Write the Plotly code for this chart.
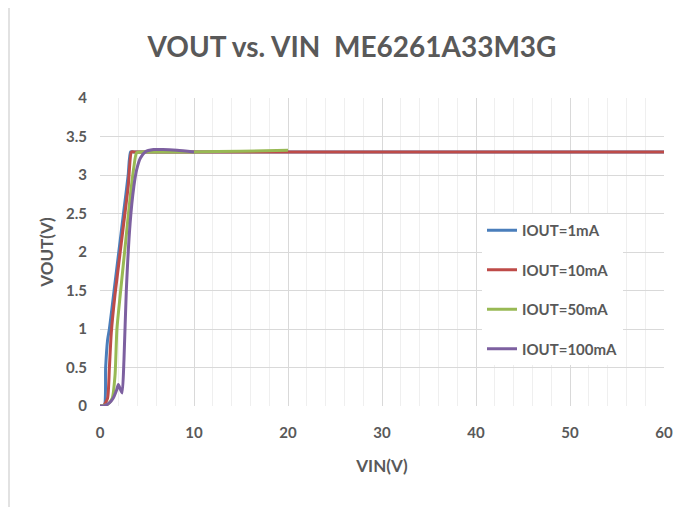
import plotly.graph_objects as go

# IOUT = 1mA
vin_1 = [0, 0.45, 0.6, 0.8, 1.0, 1.5, 2.0, 2.5, 3.0, 3.25, 3.5, 4, 5, 10, 20, 30, 40, 50, 60]
vout_1 = [0, 0.0, 0.5, 0.85, 1.0, 1.5, 2.0, 2.5, 3.0, 3.3, 3.3, 3.3, 3.3, 3.3, 3.3, 3.3, 3.3, 3.3, 3.3]
# IOUT = 10mA
vin_10 = [0, 0.35, 0.8, 1.0, 1.2, 1.6, 2.0, 2.5, 3.0, 3.35, 3.6, 4, 5, 10, 20, 30, 40, 50, 60]
vout_10 = [0, 0.0, 0.1, 0.5, 0.95, 1.45, 1.85, 2.35, 2.85, 3.3, 3.3, 3.3, 3.3, 3.3, 3.3, 3.3, 3.3, 3.3, 3.3]
# IOUT = 50mA
vin_50 = [0, 0.8, 1.3, 1.6, 1.8, 2.2, 2.7, 3.2, 3.6, 3.9, 4.5, 5, 10, 15, 20]
vout_50 = [0, 0.02, 0.1, 0.4, 1.0, 1.5, 2.1, 2.7, 3.1, 3.29, 3.3, 3.3, 3.3, 3.31, 3.32]
# IOUT = 100mA
vin_100 = [0, 0.4, 1.0, 1.4, 1.75, 1.95, 2.15, 2.35, 2.55, 2.8, 3.2, 3.6, 3.9, 4.3, 4.8, 5.7, 6.7, 8.2, 10]
vout_100 = [0, 0.0, 0.04, 0.1, 0.2, 0.28, 0.22, 0.17, 0.6, 1.5, 2.37, 2.85, 3.07, 3.22, 3.3, 3.33, 3.33, 3.32, 3.3]

series = [
    ("IOUT=1mA", vin_1, vout_1, "#4a7ebb"),
    ("IOUT=10mA", vin_10, vout_10, "#be4b48"),
    ("IOUT=50mA", vin_50, vout_50, "#98b954"),
    ("IOUT=100mA", vin_100, vout_100, "#7d60a0"),
]

FONT = "Lato, Open Sans, sans-serif"
GREY = "#595959"

# page is offset by the 8px default body margin
W, H = 688, 499
L, R, T, B = 92, 32, 90, 101
PW = W - L - R
PH = H - T - B

def px(xp):
    return (xp - 8 - L) / PW

def py(yp):
    return (H - B - (yp - 8)) / PH

fig = go.Figure()
for i, (name, x, y, c) in enumerate(series):
    fig.add_trace(go.Scatter(
        x=x, y=y, name=f"<b>{name}</b>", mode="lines",
        line=dict(color=c, width=3, shape="spline", smoothing=0.6),
        legendgroup=f"g{i}",
    ))

fig.update_layout(
    width=W, height=H,
    paper_bgcolor="white", plot_bgcolor="white",
    margin=dict(l=L, r=R, t=T, b=B),
    font=dict(family=FONT, color=GREY, size=14),
    title=dict(text="<b>VOUT vs. VIN  ME6261A33M3G</b>", x=0.5, xanchor="center",
               y=1 - 39 / H, yanchor="middle",
               font=dict(size=28, family=FONT, color=GREY)),
    xaxis=dict(range=[0, 60], dtick=10, showline=False, zeroline=False,
               gridcolor="#d9d9d9", gridwidth=1,
               minor=dict(dtick=2, showgrid=True, gridcolor="#efefef", gridwidth=1),
               tickfont=dict(size=15, family=FONT, color=GREY), ticks="",
               ticklabelstandoff=16, tickprefix="<b>", ticksuffix="</b>",
               title=dict(text="<b>VIN(V)</b>", font=dict(size=17, family=FONT, color=GREY), standoff=20)),
    yaxis=dict(range=[0, 4], dtick=0.5, showline=False, zeroline=False,
               gridcolor="#d9d9d9", gridwidth=1,
               tickfont=dict(size=15, family=FONT, color=GREY), ticks="",
               ticklabelstandoff=12, tickprefix="<b>", ticksuffix="</b>",
               title=dict(text="<b>VOUT(V)</b>", font=dict(size=17, family=FONT, color=GREY), standoff=8)),
    legend=dict(x=px(482), y=py(214), xanchor="left", yanchor="top",
                bgcolor="white", borderwidth=0, tracegroupgap=17, traceorder="grouped",
                font=dict(size=15, family=FONT, color=GREY)),
    shapes=[dict(type="rect", xref="paper", yref="paper",
                 x0=px(9), x1=px(692), y0=py(530), y1=py(6),
                 line=dict(color="#d9d9d9", width=1.5), layer="below")],
)

fig.write_html("out.html")
